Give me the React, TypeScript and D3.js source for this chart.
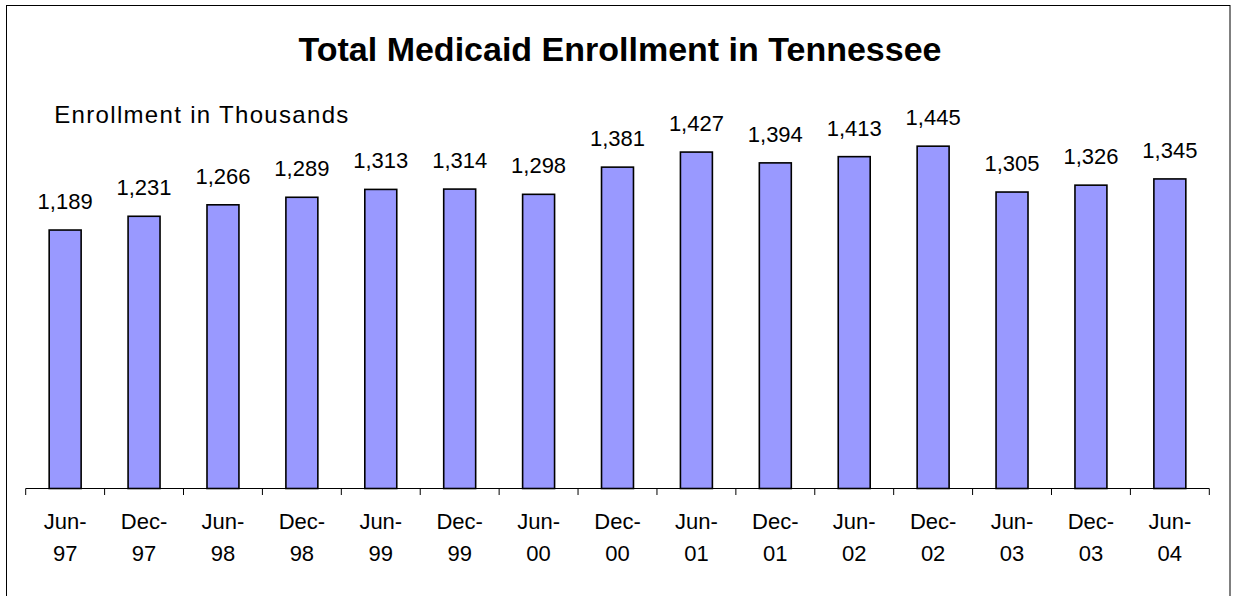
import React from "react";
import * as d3 from "d3";

const categories = [
  "Jun-97", "Dec-97", "Jun-98", "Dec-98", "Jun-99", "Dec-99", "Jun-00", "Dec-00",
  "Jun-01", "Dec-01", "Jun-02", "Dec-02", "Jun-03", "Dec-03", "Jun-04",
];
const enrollment = [1189, 1231, 1266, 1289, 1313, 1314, 1298, 1381, 1427, 1394, 1413, 1445, 1305, 1326, 1345];
const yDomain = [400, 1600];

const W = 1233;
const H = 596;
const FONT = "'Liberation Sans', Arial, Helvetica, sans-serif";

export default function App() {
  const x = d3.scaleBand<string>().domain(categories).range([25.7, 1209.3]).padding(0);
  const y = d3.scaleLinear().domain(yDomain).range([488.5, 95.4]);
  const barW = x.bandwidth() * 0.405;
  const fmt = d3.format(",");
  const boundaries = categories.map((c) => x(c) as number).concat([x.range()[1]]);

  return (
    <div style={{ position: "fixed", left: 0, top: 0, width: W, height: H, background: "#fff" }}>
      <svg width={W} height={H} style={{ display: "block" }} fontFamily={FONT}>
        <rect x={6.5} y={5.5} width={1223.5} height={620} fill="#fff" stroke="#000" strokeWidth={1} />
        <text x={620} y={61} textAnchor="middle" fontSize={34} fontWeight="bold" fill="#000">
          Total Medicaid Enrollment in Tennessee
        </text>
        <text x={54.3} y={122.7} fontSize={24} fill="#000" textLength={294} lengthAdjust="spacing">
          Enrollment in Thousands
        </text>
        {categories.map((c, i) => {
          const cx = (x(c) as number) + x.bandwidth() / 2;
          const v = enrollment[i];
          return (
            <g key={c}>
              <rect
                x={cx - barW / 2}
                y={y(v)}
                width={barW}
                height={y(yDomain[0]) - y(v)}
                fill="#9999FF"
                stroke="#000"
                strokeWidth={1.6}
              />
              <text x={cx} y={y(v) - 21} textAnchor="middle" fontSize={22} fill="#000">
                {fmt(v)}
              </text>
              <text x={cx} y={529.3} textAnchor="middle" fontSize={22} fill="#000">
                {c.split("-")[0] + "-"}
              </text>
              <text x={cx} y={560.7} textAnchor="middle" fontSize={22} fill="#000">
                {c.split("-")[1]}
              </text>
            </g>
          );
        })}
        <line x1={x.range()[0]} x2={x.range()[1]} y1={488.5} y2={488.5} stroke="#000" strokeWidth={1} />
        {boundaries.map((bx, i) => (
          <line key={i} x1={bx} x2={bx} y1={488.5} y2={495} stroke="#000" strokeWidth={1} />
        ))}
      </svg>
    </div>
  );
}
